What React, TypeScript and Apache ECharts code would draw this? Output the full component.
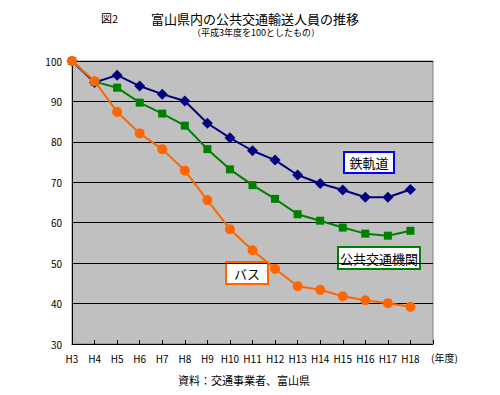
import React, { useEffect, useRef } from "react";
import * as echarts from "echarts";

const categories = ["H3", "H4", "H5", "H6", "H7", "H8", "H9", "H10", "H11", "H12", "H13", "H14", "H15", "H16", "H17", "H18", ""];
const railValues = [100, 94.7, 96.5, 93.8, 91.8, 90.1, 84.6, 81.0, 77.8, 75.5, 71.8, 69.7, 68.1, 66.3, 66.3, 68.2];
const publicValues = [100, 94.9, 93.4, 89.7, 87.0, 84.0, 78.2, 73.2, 69.3, 65.9, 62.1, 60.5, 58.8, 57.3, 56.8, 58.0];
const busValues = [100, 95.0, 87.4, 82.1, 78.2, 72.9, 65.6, 58.4, 53.2, 48.6, 44.3, 43.4, 41.8, 40.8, 40.1, 39.2];
const yMin = 30;
const yMax = 100;
const yInterval = 10;

const FONT = "'Noto Sans CJK JP', sans-serif";

function labelBox(x: number, y: number, w: number, h: number, text: string, color: string) {
  return {
    type: "group",
    children: [
      {
        type: "rect",
        shape: { x, y, width: w, height: h },
        style: { fill: "#ffffff", stroke: color, lineWidth: 2 },
      },
      {
        type: "text",
        x: x + w / 2,
        y: y + h / 2,
        style: {
          text,
          fill: "#000",
          font: `13px ${FONT}`,
          align: "center",
          verticalAlign: "middle",
        },
      },
    ],
  };
}

export default function App() {
  const ref = useRef<HTMLDivElement>(null);
  useEffect(() => {
    if (!ref.current) return;
    const chart = echarts.init(ref.current, null, { renderer: "svg" });
    chart.setOption({
      animation: false,
      backgroundColor: "#ffffff",
      grid: { left: 72, top: 61, right: 67, bottom: 51, show: true, backgroundColor: "#c0c0c0", borderColor: "#808080", borderWidth: 1 },
      xAxis: {
        type: "category",
        data: categories,
        boundaryGap: false,
        axisLine: { lineStyle: { color: "#000", width: 1 } },
        axisTick: { show: true, interval: 0, length: 4, inside: true, lineStyle: { color: "#000" } },
        axisLabel: { interval: 0, color: "#000", fontSize: 10, fontFamily: FONT, margin: 9 },
        splitLine: { show: false },
      },
      yAxis: {
        type: "value",
        min: yMin,
        max: yMax,
        interval: yInterval,
        axisLine: { show: true, lineStyle: { color: "#000", width: 1 } },
        axisTick: { show: false },
        axisLabel: { color: "#000", fontSize: 10, fontFamily: FONT, margin: 10 },
        splitLine: { show: true, lineStyle: { color: "#000", width: 1 } },
      },
      series: [
        {
          name: "公共交通機関",
          type: "line",
          data: publicValues,
          symbol: "rect",
          symbolSize: 8,
          lineStyle: { color: "#008000", width: 2 },
          itemStyle: { color: "#008000" },
          z: 3,
        },
        {
          name: "鉄軌道",
          type: "line",
          data: railValues,
          symbol: "diamond",
          symbolSize: 11,
          lineStyle: { color: "#000080", width: 2 },
          itemStyle: { color: "#000080" },
          z: 4,
        },
        {
          name: "バス",
          type: "line",
          data: busValues,
          symbol: "circle",
          symbolSize: 10,
          lineStyle: { color: "#ff6600", width: 2 },
          itemStyle: { color: "#ff6600" },
          z: 5,
        },
      ],
      graphic: [
        { type: "text", x: 101, y: 18, style: { text: "図2", fill: "#000", font: `11px ${FONT}`, verticalAlign: "middle" } },
        { type: "text", x: 255, y: 18, style: { text: "富山県内の公共交通輸送人員の推移", fill: "#000", font: `13px ${FONT}`, lineHeight: 13, align: "center", verticalAlign: "middle" } },
        { type: "text", x: 256, y: 32.5, style: { text: "（平成3年度を100としたもの）", fill: "#000", font: `9px ${FONT}`, lineHeight: 9, align: "center", verticalAlign: "middle" } },
        { type: "text", x: 431, y: 357, style: { text: "(年度)", fill: "#000", font: `10px ${FONT}`, verticalAlign: "middle" } },
        { type: "text", x: 244, y: 380, style: { text: "資料：交通事業者、富山県", fill: "#000", font: `11px ${FONT}`, align: "center", verticalAlign: "middle" } },
        labelBox(344, 152, 50, 21, "鉄軌道", "#0000ff"),
        labelBox(338, 247, 82, 22, "公共交通機関", "#008000"),
        labelBox(226, 262, 42, 22, "バス", "#ff6600"),
      ],
    });
    return () => chart.dispose();
  }, []);
  return <div ref={ref} style={{ position: "absolute", left: 0, top: 0, width: 500, height: 395 }} />;
}
